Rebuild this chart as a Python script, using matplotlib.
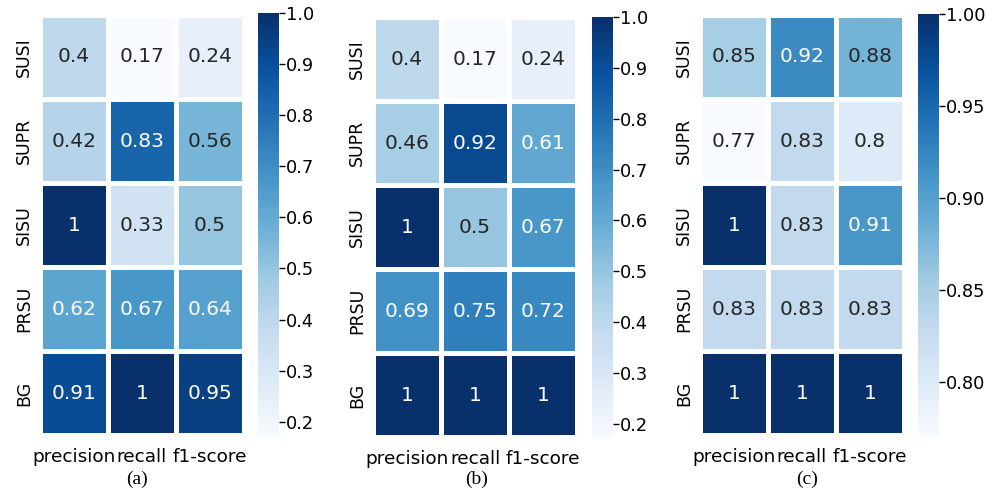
import numpy as np
import matplotlib
matplotlib.use("Agg")
import matplotlib.pyplot as plt
import seaborn as sns
from matplotlib.ticker import FixedLocator, FormatStrFormatter

plt.rcParams["font.family"] = ["DejaVu Sans"]

rows = ["SUSI", "SUPR", "SISU", "PRSU", "BG"]
metrics = ["precision", "recall", "f1-score"]

scores_a = [
    [0.40, 0.17, 0.24],
    [0.42, 0.83, 0.56],
    [1.00, 0.33, 0.50],
    [0.62, 0.67, 0.64],
    [0.91, 1.00, 0.95],
]
scores_b = [
    [0.40, 0.17, 0.24],
    [0.46, 0.92, 0.61],
    [1.00, 0.50, 0.67],
    [0.69, 0.75, 0.72],
    [1.00, 1.00, 1.00],
]
scores_c = [
    [0.85, 0.92, 0.88],
    [0.77, 0.83, 0.80],
    [1.00, 0.83, 0.91],
    [0.83, 0.83, 0.83],
    [1.00, 1.00, 1.00],
]
captions = ["(a)", "(b)", "(c)"]
cbar_ticks = [
    [0.2, 0.3, 0.4, 0.5, 0.6, 0.7, 0.8, 0.9, 1.0],
    [0.2, 0.3, 0.4, 0.5, 0.6, 0.7, 0.8, 0.9, 1.0],
    [0.80, 0.85, 0.90, 0.95, 1.00],
]
cbar_fmt = ["%.1f", "%.1f", "%.2f"]

W, H = 1001, 490
fig = plt.figure(figsize=(W / 100, H / 100), dpi=100)

def box(x0, x1, top, bottom):
    return [x0 / W, (H - bottom) / H, (x1 - x0) / W, (bottom - top) / H]

heat_boxes = [box(40, 244, 15, 435), box(373, 577, 17, 437), box(700, 904, 15, 435)]
cbar_boxes = [box(258, 279, 13, 437), box(592, 613, 17, 439), box(918, 939, 14, 437)]
caption_x = [137, 477, 807]

for data, hb, cb, cap, cx, ticks, fmt in zip(
    [scores_a, scores_b, scores_c], heat_boxes, cbar_boxes, captions,
    caption_x, cbar_ticks, cbar_fmt):
    ax = fig.add_axes(hb)
    cax = fig.add_axes(cb)
    arr = np.array(data)
    sns.heatmap(arr, ax=ax, cbar_ax=cax, cmap="Blues", annot=True, fmt=".2g",
                linewidths=2.5, linecolor="white",
                vmin=arr.min(), vmax=arr.max(),
                xticklabels=metrics, yticklabels=rows,
                annot_kws={"fontsize": 14.5})
    ax.tick_params(axis="both", length=0)
    ax.tick_params(axis="x", pad=9, labelsize=13.3)
    ax.tick_params(axis="y", pad=5, labelsize=12.5)
    plt.setp(ax.get_yticklabels(), rotation=90, va="center")
    plt.setp(ax.get_xticklabels(), rotation=0)
    cax.yaxis.set_major_locator(FixedLocator(ticks))
    cax.yaxis.set_major_formatter(FormatStrFormatter(fmt))
    cax.tick_params(labelsize=12.8, length=4, width=1, pad=1)
    for s in cax.spines.values():
        s.set_visible(False)
    fig.text(cx / W, (H - 479) / H, cap, ha="center", va="center",
             fontsize=14, family="Liberation Serif")

fig.savefig("out.png", dpi=100)
